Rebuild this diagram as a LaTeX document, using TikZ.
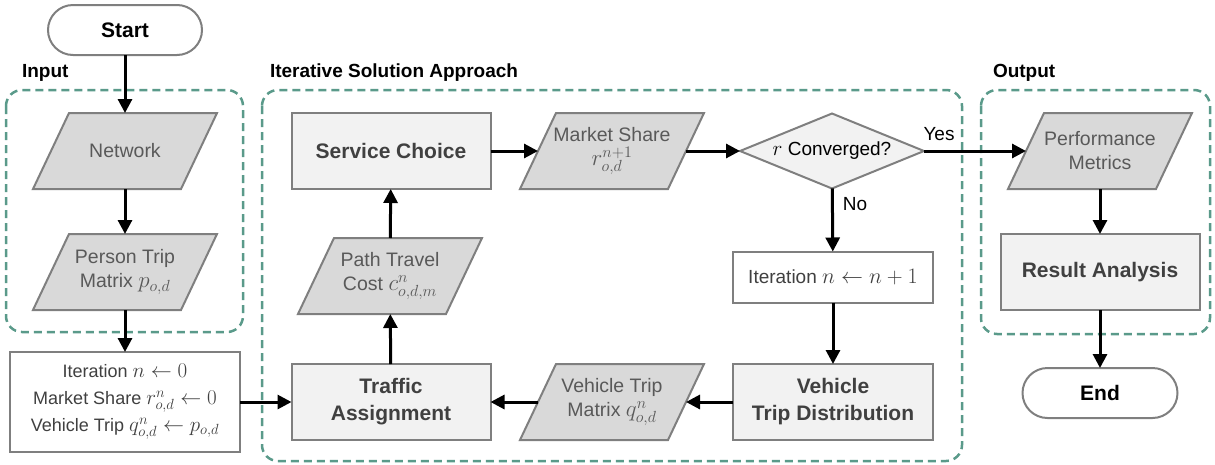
\documentclass[tikz,border=0pt]{standalone}
\usepackage{fix-cm}
\usepackage[no-math]{fontspec}
\setmainfont{Liberation Sans}
\usetikzlibrary{shapes.geometric,arrows.meta}

\definecolor{edgegray}{HTML}{7F7F7F}
\definecolor{boxfill}{HTML}{F2F2F2}
\definecolor{parafill}{HTML}{D9D9D9}
\definecolor{boxtext}{HTML}{404040}
\definecolor{paratext}{HTML}{595959}
\definecolor{groupline}{HTML}{5A9A8A}

\pgfdeclarelayer{background}
\pgfsetlayers{background,main}

% math set at its own, larger size next to the sans text
\newcommand{\mth}[2][23]{{\fontsize{#1}{#1}\selectfont$#2$}}

% data (input/output) node: text node plus a slanted parallelogram behind it
\newcommand{\datanode}[4]{%
  \node[datatext] (#1) at (#2,#3) {#4};
  \begin{pgfonlayer}{background}
    \draw[datashape] ([xshift=18pt]#1.north west) -- ([xshift=18pt]#1.north east)
      -- ([xshift=-18pt]#1.south east) -- ([xshift=-18pt]#1.south west) -- cycle;
  \end{pgfonlayer}}

\begin{document}
\begin{tikzpicture}[x=1pt,y=-1pt,
  every node/.style={inner sep=0pt, outer sep=0pt},
  process/.style={draw=edgegray, line width=2pt, fill=boxfill,
    minimum width=199pt, minimum height=76pt, align=center,
    font=\fontsize{21}{27}\selectfont\bfseries, text=boxtext},
  plainbox/.style={draw=edgegray, line width=2pt, fill=white, align=center,
    font=\fontsize{18}{27}\selectfont, text=boxtext},
  datatext/.style={minimum width=148pt, minimum height=76pt, align=center,
    font=\fontsize{19.5}{24}\selectfont, text=paratext},
  datashape/.style={draw=edgegray, line width=2pt, fill=parafill, line join=miter},
  terminal/.style={draw=edgegray, line width=2pt, fill=white, rounded corners=25pt,
    minimum width=154pt, minimum height=50pt,
    font=\fontsize{21}{25}\selectfont\bfseries, text=black},
  decision/.style={diamond, aspect=2.45, draw=edgegray, line width=2pt, fill=boxfill,
    minimum width=184pt, minimum height=75pt,
    font=\fontsize{19}{23}\selectfont, text=black},
  group/.style={draw=groupline, line width=2.5pt, dash pattern=on 8pt off 5pt,
    rounded corners=16pt},
  grouplabel/.style={anchor=west, font=\fontsize{19}{23}\selectfont\bfseries},
  flow/.style={line width=3pt, -{Triangle[length=14pt,width=14pt]}},
  branch/.style={font=\fontsize{19}{23}\selectfont}
]
\useasboundingbox (0,0) rectangle (1215,464);

% group frames
\begin{pgfonlayer}{background}
\draw[group] (6,90) rectangle (243,332);
\draw[group] (262,90) rectangle (962,461);
\draw[group] (981,90) rectangle (1210,334);
\end{pgfonlayer}
\node[grouplabel] (inlabel) at (22,73) {Input};
\node[grouplabel] (itlabel) at (270,73) {Iterative Solution Approach};
\node[grouplabel] (outlabel) at (993,73) {Output};

% input column
\node[terminal] (start) at (125,30) {Start};
\datanode{network}{125}{151}{Network}
\datanode{person}{125}{272}{Person Trip\\Matrix \mth{p_{o,d}}}
\node[plainbox, minimum width=230pt, minimum height=100pt] (init) at (125,402)
  {Iteration \mth[21]{n \leftarrow 0}\\Market Share \mth[21]{r^{n}_{o,d} \leftarrow 0}\\Vehicle Trip \mth[21]{q^{n}_{o,d} \leftarrow p_{o,d}}};

% iterative loop
\node[process] (svc) at (391,151) {Service Choice};
\datanode{mkt}{612}{151}{Market Share\\\mth{r^{n+1}_{o,d}}}
\node[decision] (conv) at (832,151) {\mth[21]{r} Converged?};
\node[plainbox, minimum width=200pt, minimum height=51pt, font=\fontsize{19}{23}\selectfont] (iter) at (833,277) {Iteration \mth[22]{n \leftarrow n+1}};
\node[process, minimum width=200pt] (vtd) at (833,402) {Vehicle\\Trip Distribution};
\datanode{vtm}{612}{402}{Vehicle Trip\\Matrix \mth{q^{n}_{o,d}}}
\node[process] (ta) at (391,402) {Traffic\\Assignment};
\datanode{ptc}{390}{276}{Path Travel\\Cost \mth{c^{n}_{o,d,m}}}

% output column
\datanode{pm}{1100}{151}{Performance\\Metrics}
\node[process] (ra) at (1100,272) {Result Analysis};
\node[terminal, minimum width=155pt] (end) at (1100,393) {End};

% connectors
\draw[flow] (start) -- (network);
\draw[flow] (network) -- (person);
\draw[flow] (person) -- (init);
\draw[flow] (init) -- (ta);
\draw[flow] (ta) -- (ptc);
\draw[flow] (ptc) -- (svc);
\draw[flow] (svc) -- (mkt);
\draw[flow] (mkt) -- (conv);
\draw[flow] (conv) -- (pm);
\draw[flow] (conv) -- (iter);
\draw[flow] (iter) -- (vtd);
\draw[flow] (vtd) -- (vtm);
\draw[flow] (vtm) -- (ta);
\draw[flow] (pm) -- (ra);
\draw[flow] (ra) -- (end);

\node[branch] (yes) at (939,134) {Yes};
\node[branch] (no) at (855,204) {No};
\end{tikzpicture}
\end{document}
